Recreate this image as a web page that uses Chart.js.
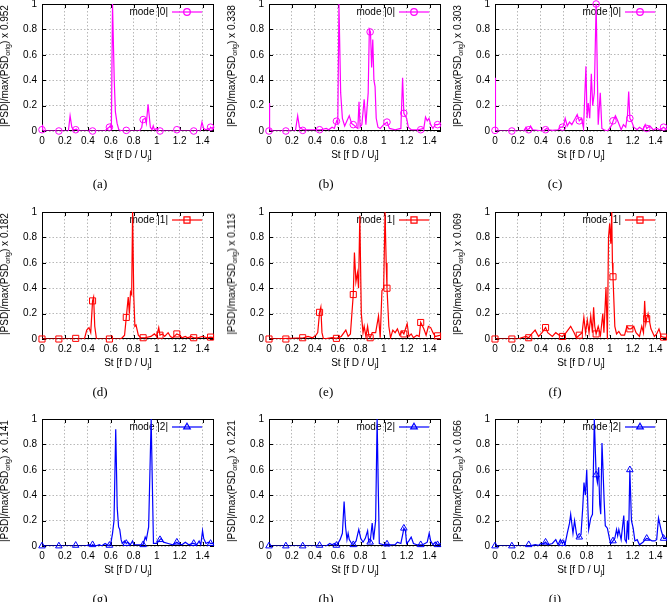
<!DOCTYPE html>
<html>
<head>
<meta charset="utf-8">
<script src="https://cdn.jsdelivr.net/npm/chart.js@4.4.1/dist/chart.umd.min.js"></script>
<style>
    body { margin: 0; background: #fff; }
    #fig { position: relative; width: 667px; height: 602px; overflow: hidden; font-family: "Liberation Sans", Arial, sans-serif; color: #000; }
    #fig canvas { position: absolute; }
    .ylab, .xlab, .cap { position: absolute; white-space: nowrap; line-height: 1; }
    .ylab { font-size: 10px; transform: translate(-50%, -50%) rotate(-90deg); }
    .xlab { font-size: 10px; transform: translate(-50%, -50%); }
    .cap { font-family: "Liberation Serif", "Times New Roman", serif; font-size: 13px; transform: translate(-50%, -50%); }
    sub { font-size: 7px; vertical-align: -2px; line-height: 0; }
</style>
</head>
<body>
<div id="fig"></div>
<script>
// ==================== DATA ====================

// St positions of the point markers (same for every panel)
const markSt = [0, 0.147, 0.294, 0.441, 0.588, 0.735, 0.882, 1.029, 1.176, 1.323, 1.47];

// (a) mode |0|
const stA = [0, 0.005, 0.02, 0.23, 0.245, 0.26, 0.275, 0.3, 0.32, 0.55, 0.57, 0.585, 0.595, 0.605, 0.615, 0.63, 0.64, 0.655, 0.67, 0.7, 0.85, 0.87, 0.88, 0.9, 0.91, 0.925, 0.935, 0.945, 0.96, 0.97, 0.98, 1.0, 1.02, 1.38, 1.395, 1.41, 1.43, 1.45, 1.46, 1.47, 1.485, 1.5];
const psdA = [0.05, 0.01, 0, 0, 0.12, 0.03, 0.01, 0.015, 0, 0, 0.02, 0.03, 0.04, 0.02, 1.0, 0.4, 0.15, 0.06, 0.01, 0, 0, 0.03, 0.09, 0.1, 0.06, 0.21, 0.12, 0.03, 0.01, 0.04, 0.01, 0.02, 0, 0, 0.07, 0.02, 0.01, 0.02, 0.01, 0.03, 0.02, 0.04];
const markA = [0.01, 0, 0.01, 0, 0.03, 0.005, 0.09, 0, 0.01, 0, 0.03];

// (b) mode |0|
const stB = [0, 0.005, 0.015, 0.23, 0.25, 0.265, 0.28, 0.3, 0.45, 0.5, 0.52, 0.55, 0.57, 0.59, 0.6, 0.61, 0.625, 0.64, 0.66, 0.68, 0.7, 0.72, 0.735, 0.76, 0.775, 0.785, 0.795, 0.81, 0.83, 0.845, 0.855, 0.865, 0.875, 0.885, 0.895, 0.905, 0.915, 0.925, 0.935, 0.95, 0.97, 1.0, 1.03, 1.05, 1.1, 1.15, 1.165, 1.176, 1.2, 1.215, 1.24, 1.3, 1.35, 1.365, 1.38, 1.395, 1.41, 1.43, 1.45, 1.47, 1.5];
const psdB = [0.22, 0.02, 0, 0, 0.12, 0.03, 0.02, 0.01, 0.01, 0.02, 0.01, 0.03, 0.02, 0.08, 0.06, 1.0, 0.3, 0.1, 0.04, 0.08, 0.12, 0.06, 0.05, 0.03, 0.02, 0.23, 0.03, 0.05, 0.25, 0.05, 0.18, 0.3, 0.8, 0.78, 0.5, 0.72, 0.4, 0.35, 0.1, 0.03, 0.02, 0.05, 0.07, 0.02, 0.01, 0.02, 0.42, 0.14, 0.1, 0.03, 0.01, 0.01, 0.02, 0.11, 0.08, 0.1, 0.05, 0.02, 0.05, 0.05, 0.06];
const markB = [0, 0, 0.005, 0.01, 0.077, 0.05, 0.78, 0.07, 0.14, 0.01, 0.05];

// (c) mode |0|
const stC = [0, 0.004, 0.012, 0.25, 0.27, 0.28, 0.3, 0.31, 0.33, 0.42, 0.45, 0.47, 0.5, 0.55, 0.57, 0.59, 0.6, 0.612, 0.63, 0.65, 0.67, 0.7, 0.717, 0.735, 0.755, 0.772, 0.793, 0.803, 0.813, 0.826, 0.84, 0.852, 0.866, 0.882, 0.9, 0.918, 0.932, 0.95, 0.98, 1.0, 1.02, 1.03, 1.05, 1.07, 1.1, 1.12, 1.14, 1.155, 1.166, 1.176, 1.19, 1.21, 1.24, 1.26, 1.29, 1.31, 1.323, 1.35, 1.38, 1.41, 1.44, 1.47, 1.5];
const psdC = [0.42, 0.01, 0, 0, 0.03, 0.01, 0.02, 0.04, 0.01, 0, 0.02, 0.01, 0.005, 0.01, 0.03, 0.03, 0.05, 0.1, 0.04, 0.07, 0.05, 0.1, 0.13, 0.08, 0.1, 0.02, 0.51, 0.1, 0.22, 0.1, 0.45, 0.2, 0.3, 1.0, 0.05, 0.3, 0.02, 0.01, 0, 0.02, 0.05, 0.08, 0.12, 0.08, 0.01, 0.05, 0.03, 0.12, 0.31, 0.1, 0.08, 0.03, 0.01, 0.03, 0.01, 0.05, 0.02, 0.04, 0.01, 0.02, 0.01, 0.03, 0.01];
const markC = [0.005, 0, 0.01, 0.01, 0.03, 0.08, 1.0, 0.08, 0.1, 0.02, 0.03];

// (d) mode |1|
const stD = [0, 0.37, 0.39, 0.41, 0.425, 0.441, 0.45, 0.46, 0.475, 0.68, 0.7, 0.72, 0.735, 0.752, 0.762, 0.772, 0.782, 0.79, 0.8, 0.81, 0.82, 0.84, 0.86, 0.9, 0.95, 0.98, 1.0, 1.018, 1.029, 1.05, 1.07, 1.1, 1.12, 1.14, 1.176, 1.2, 1.22, 1.25, 1.27, 1.3, 1.323, 1.36, 1.4, 1.44, 1.47, 1.5];
const psdD = [0, 0, 0.07, 0.09, 0.05, 0.3, 0.33, 0.1, 0, 0, 0.01, 0.03, 0.17, 0.33, 0.2, 0.37, 0.35, 1.0, 0.35, 0.1, 0.11, 0.03, 0.01, 0.01, 0.02, 0.04, 0.02, 0.09, 0.03, 0.04, 0.02, 0.05, 0.02, 0.01, 0.04, 0.03, 0.01, 0.02, 0.01, 0.02, 0.01, 0.01, 0.02, 0.01, 0.015, 0.01];
const markD = [0, 0, 0.005, 0.3, 0, 0.17, 0.01, 0.03, 0.04, 0.01, 0.015];

// (e) mode |1|
const stE = [0, 0.3, 0.34, 0.38, 0.41, 0.425, 0.441, 0.452, 0.462, 0.475, 0.55, 0.588, 0.63, 0.67, 0.69, 0.71, 0.735, 0.745, 0.758, 0.771, 0.781, 0.792, 0.805, 0.82, 0.83, 0.845, 0.86, 0.872, 0.882, 0.9, 0.93, 0.955, 0.97, 0.985, 1.0, 1.012, 1.022, 1.029, 1.045, 1.06, 1.08, 1.1, 1.12, 1.14, 1.16, 1.176, 1.205, 1.22, 1.24, 1.26, 1.29, 1.31, 1.323, 1.35, 1.37, 1.39, 1.41, 1.43, 1.45, 1.47, 1.5];
const psdE = [0, 0.01, 0.02, 0.01, 0.03, 0.05, 0.21, 0.25, 0.05, 0, 0.01, 0.005, 0.02, 0.07, 0.02, 0.04, 0.35, 0.68, 0.45, 0.52, 0.4, 0.97, 0.2, 0.05, 0.1, 0.02, 0.1, 0.02, 0.01, 0.05, 0.05, 0.18, 0.01, 0.38, 0.4, 1.0, 0.6, 0.4, 0.1, 0.01, 0.07, 0.05, 0.08, 0.03, 0.06, 0.04, 0.12, 0.02, 0.04, 0.01, 0.03, 0.02, 0.13, 0.08, 0.03, 0.1, 0.09, 0.05, 0.02, 0.025, 0.03];
const markE = [0, 0, 0.01, 0.21, 0.005, 0.35, 0.01, 0.4, 0.04, 0.13, 0.025];

// (f) mode |1|
const stF = [0, 0.2, 0.23, 0.27, 0.294, 0.32, 0.35, 0.38, 0.41, 0.441, 0.46, 0.5, 0.53, 0.56, 0.588, 0.62, 0.66, 0.69, 0.71, 0.735, 0.76, 0.775, 0.79, 0.805, 0.82, 0.835, 0.85, 0.86, 0.87, 0.882, 0.9, 0.92, 0.94, 0.95, 0.968, 0.98, 0.99, 1.0, 1.01, 1.018, 1.024, 1.029, 1.045, 1.06, 1.08, 1.1, 1.13, 1.15, 1.165, 1.185, 1.21, 1.23, 1.26, 1.28, 1.295, 1.305, 1.315, 1.323, 1.335, 1.36, 1.39, 1.41, 1.43, 1.45, 1.47, 1.5];
const psdF = [0, 0, 0.01, 0.02, 0.01, 0.04, 0.07, 0.02, 0.05, 0.09, 0.05, 0.02, 0.05, 0.03, 0.02, 0.05, 0.1, 0.05, 0.01, 0.03, 0.05, 0.17, 0.05, 0.15, 0.05, 0.18, 0.05, 0.25, 0.1, 0.04, 0.1, 0.03, 0.2, 0.05, 0.41, 0, 0.8, 0.91, 0.75, 1.0, 0.6, 0.49, 0.1, 0.04, 0.06, 0.03, 0.03, 0.1, 0.08, 0.08, 0.1, 0.05, 0.02, 0.1, 0.05, 0.3, 0.12, 0.16, 0.2, 0.08, 0.02, 0.04, 0.08, 0.02, 0.015, 0.01];
const markF = [0, 0, 0.01, 0.09, 0.02, 0.03, 0.04, 0.49, 0.08, 0.16, 0.015];

// (g) mode |2|
const stG = [0, 0.38, 0.41, 0.43, 0.441, 0.47, 0.5, 0.52, 0.55, 0.575, 0.588, 0.6, 0.615, 0.628, 0.643, 0.656, 0.668, 0.678, 0.69, 0.7, 0.72, 0.735, 0.75, 0.77, 0.79, 0.8, 0.85, 0.882, 0.9, 0.91, 0.93, 0.952, 0.962, 0.972, 1.0, 1.029, 1.04, 1.06, 1.1, 1.14, 1.176, 1.19, 1.22, 1.25, 1.28, 1.31, 1.323, 1.35, 1.37, 1.385, 1.4, 1.41, 1.43, 1.45, 1.47, 1.5];
const psdG = [0, 0, 0.01, 0, 0.01, 0, 0.01, 0, 0.02, 0.005, 0.005, 0.02, 0.1, 0.2, 0.92, 0.3, 0.15, 0.13, 0.05, 0.02, 0.04, 0.02, 0.03, 0.01, 0.04, 0.01, 0.01, 0.01, 0.07, 0.05, 0.15, 1.0, 0.5, 0.02, 0.02, 0.05, 0.06, 0.03, 0.02, 0.01, 0.03, 0.02, 0.01, 0.03, 0.01, 0.02, 0.02, 0.01, 0.04, 0.01, 0.12, 0.06, 0.02, 0.03, 0.02, 0.02];
const markG = [0, 0, 0.005, 0.01, 0.005, 0.02, 0.01, 0.05, 0.03, 0.02, 0.02];

// (h) mode |2|
const stH = [0, 0.5, 0.53, 0.55, 0.57, 0.588, 0.6, 0.62, 0.64, 0.655, 0.668, 0.68, 0.69, 0.7, 0.72, 0.735, 0.76, 0.783, 0.8, 0.82, 0.84, 0.86, 0.87, 0.882, 0.9, 0.912, 0.93, 0.943, 0.952, 0.962, 1.0, 1.029, 1.06, 1.1, 1.12, 1.15, 1.168, 1.176, 1.19, 1.2, 1.22, 1.24, 1.26, 1.29, 1.323, 1.34, 1.36, 1.38, 1.397, 1.41, 1.43, 1.45, 1.47, 1.5];
const psdH = [0, 0, 0.02, 0.01, 0.02, 0.005, 0.02, 0.05, 0.1, 0.35, 0.15, 0.05, 0.1, 0.05, 0.02, 0.01, 0.04, 0.13, 0.06, 0.03, 0.06, 0.12, 0.03, 0.03, 0.18, 0.05, 0.2, 1.0, 0.5, 0.02, 0.01, 0.015, 0.01, 0.01, 0.03, 0.02, 0.1, 0.14, 0.12, 0.02, 0.04, 0.07, 0.02, 0.01, 0.01, 0.01, 0.02, 0.03, 0.1, 0.04, 0.01, 0.03, 0.01, 0.02];
const markH = [0, 0, 0, 0.005, 0.005, 0.01, 0.03, 0.015, 0.14, 0.01, 0.01];

// (i) mode |2|
const stI = [0, 0.3, 0.35, 0.38, 0.4, 0.42, 0.441, 0.46, 0.5, 0.53, 0.55, 0.57, 0.588, 0.6, 0.61, 0.63, 0.65, 0.66, 0.68, 0.694, 0.71, 0.72, 0.735, 0.75, 0.765, 0.776, 0.788, 0.8, 0.81, 0.817, 0.835, 0.85, 0.858, 0.866, 0.882, 0.893, 0.904, 0.913, 0.922, 0.933, 0.942, 0.952, 0.962, 0.98, 1.0, 1.01, 1.029, 1.045, 1.06, 1.07, 1.08, 1.1, 1.123, 1.133, 1.145, 1.155, 1.165, 1.176, 1.19, 1.205, 1.22, 1.24, 1.26, 1.29, 1.31, 1.323, 1.35, 1.37, 1.39, 1.41, 1.426, 1.45, 1.47, 1.5];
const psdI = [0, 0, 0.01, 0.005, 0.02, 0.015, 0.03, 0.01, 0.02, 0.05, 0.01, 0.05, 0.02, 0.04, 0.01, 0.1, 0.18, 0.25, 0.1, 0.2, 0.1, 0.07, 0.07, 0.09, 0.3, 0.5, 0.4, 0.6, 0.3, 0.13, 0.22, 0.25, 0.6, 1.0, 0.56, 0.5, 0.62, 0.33, 0.25, 0.81, 0.6, 0.35, 0.16, 0.14, 0.05, 0.02, 0.04, 0.06, 0.13, 0.08, 0.13, 0.05, 0.24, 0.05, 0.03, 0.2, 0.05, 0.6, 0.2, 0.14, 0.04, 0.05, 0.01, 0.03, 0.05, 0.06, 0.05, 0.04, 0.04, 0.05, 0.22, 0.12, 0.06, 0.06];
const markI = [0, 0, 0.01, 0.03, 0.02, 0.07, 0.56, 0.04, 0.6, 0.06, 0.06];

const modes = [0, 0, 0, 1, 1, 1, 2, 2, 2];
const scaleFactors = ['0.952', '0.338', '0.303', '0.182', '0.113', '0.069', '0.141', '0.221', '0.056'];
const captions = ['(a)', '(b)', '(c)', '(d)', '(e)', '(f)', '(g)', '(h)', '(i)'];

const panels = [
    [stA, psdA, markA], [stB, psdB, markB], [stC, psdC, markC],
    [stD, psdD, markD], [stE, psdE, markE], [stF, psdF, markF],
    [stG, psdG, markG], [stH, psdH, markH], [stI, psdI, markI]
];

// ==================== LAYOUT / STYLE ====================

const PLOT_LEFT = [42, 269, 495];
const PLOT_TOP = [1, 209, 416];
const CAPTION_X = [100, 326, 555];
const PLOT_W = 172, PLOT_H = 130;
const Y_AXIS_W = 40, X_AXIS_H = 20, PAD_T = 8, PAD_R = 10, PAD_B = 2;

const modeColors = ['#ff00ff', '#ff0000', '#0000ff'];
const modeMarkers = ['circle', 'rect', 'triangle'];
const markerRadius = { circle: 3.3, rect: 4.3, triangle: 3.8 };
const FONT = { family: '"Liberation Sans", Arial, sans-serif', size: 10 };

function toPoints(xs, ys) {
    return xs.map((x, i) => ({ x: x, y: ys[i] }));
}

function fmtTick(v) {
    return String(Math.round(v * 10) / 10);
}

function drawMarker(ctx, style, x, y, r) {
    ctx.beginPath();
    if (style === 'circle') {
        ctx.arc(x, y, r, 0, Math.PI * 2);
    } else if (style === 'rect') {
        const s = r * Math.SQRT1_2;
        ctx.rect(x - s, y - s, 2 * s, 2 * s);
    } else {
        for (let k = 0; k < 3; k++) {
            const a = k * 2 * Math.PI / 3;
            const px = x + Math.sin(a) * r, py = y - Math.cos(a) * r;
            if (k === 0) ctx.moveTo(px, py); else ctx.lineTo(px, py);
        }
        ctx.closePath();
    }
    ctx.stroke();
}

// black frame with inward ticks on all four sides
const framePlugin = {
    id: 'frame',
    beforeDatasetsDraw(chart) {
        const { ctx, chartArea: a, scales } = chart;
        ctx.save();
        ctx.strokeStyle = '#000';
        ctx.lineWidth = 1;
        ctx.beginPath();
        scales.x.ticks.forEach(t => {
            const px = Math.round(scales.x.getPixelForValue(t.value)) + 0.5;
            ctx.moveTo(px, a.bottom); ctx.lineTo(px, a.bottom - 4);
            ctx.moveTo(px, a.top); ctx.lineTo(px, a.top + 4);
        });
        scales.y.ticks.forEach(t => {
            const py = Math.round(scales.y.getPixelForValue(t.value)) + 0.5;
            ctx.moveTo(a.left, py); ctx.lineTo(a.left + 4, py);
            ctx.moveTo(a.right, py); ctx.lineTo(a.right - 4, py);
        });
        ctx.stroke();
        ctx.strokeRect(Math.round(a.left) + 0.5, Math.round(a.top) + 0.5,
            Math.round(a.width) - 1, Math.round(a.height) - 1);
        ctx.restore();
    }
};

// gnuplot-style key in the top right corner: text, then line sample with marker
const keyPlugin = {
    id: 'modeKey',
    beforeDatasetsDraw(chart, args, opts) {
        const { ctx, chartArea: a } = chart;
        const y = a.top + 8;
        ctx.save();
        ctx.font = FONT.size + 'px ' + FONT.family;
        ctx.fillStyle = '#000';
        ctx.textAlign = 'right';
        ctx.textBaseline = 'middle';
        ctx.fillText(opts.label, a.right - 46, y + 0.5);
        ctx.strokeStyle = opts.color;
        ctx.lineWidth = 1.2;
        ctx.beginPath();
        ctx.moveTo(a.right - 42, y);
        ctx.lineTo(a.right - 12, y);
        ctx.stroke();
        drawMarker(ctx, opts.marker, a.right - 27, y, markerRadius[opts.marker]);
        ctx.restore();
    }
};

// ==================== CHARTS ====================

const fig = document.getElementById('fig');

function addText(cls, html, x, y) {
    const el = document.createElement('div');
    el.className = cls;
    el.innerHTML = html;
    el.style.left = x + 'px';
    el.style.top = y + 'px';
    fig.appendChild(el);
}

function createPanel(i) {
    const col = i % 3, row = Math.floor(i / 3);
    const left = PLOT_LEFT[col], top = PLOT_TOP[row];
    const [st, psd, mark] = panels[i];
    const color = modeColors[modes[i]];
    const marker = modeMarkers[modes[i]];

    const canvas = document.createElement('canvas');
    canvas.width = Y_AXIS_W + PLOT_W + PAD_R;
    canvas.height = PAD_T + PLOT_H + X_AXIS_H + PAD_B;
    canvas.style.left = (left - Y_AXIS_W) + 'px';
    canvas.style.top = (top - PAD_T) + 'px';
    fig.appendChild(canvas);

    new Chart(canvas, {
        type: 'scatter',
        data: {
            datasets: [{
                data: toPoints(st, psd),
                showLine: true,
                borderColor: color,
                borderWidth: 1.2,
                pointRadius: 0,
                tension: 0
            }, {
                data: toPoints(markSt, mark),
                showLine: false,
                pointStyle: marker,
                pointRadius: markerRadius[marker],
                pointBorderColor: color,
                pointBackgroundColor: 'rgba(0,0,0,0)',
                pointBorderWidth: 1,
                clip: false
            }]
        },
        options: {
            responsive: false,
            animation: false,
            events: [],
            layout: { padding: { top: PAD_T, right: PAD_R, bottom: PAD_B, left: 0 } },
            scales: {
                x: {
                    type: 'linear',
                    min: 0,
                    max: 1.5,
                    afterFit: s => { s.height = X_AXIS_H; },
                    grid: { color: '#b8b8b8', drawTicks: false },
                    border: { display: false, dash: [1.5, 2] },
                    ticks: {
                        stepSize: 0.2, includeBounds: false, autoSkip: false, maxRotation: 0,
                        padding: 4, color: '#000', font: FONT, callback: fmtTick
                    }
                },
                y: {
                    min: 0,
                    max: 1,
                    afterFit: s => { s.width = Y_AXIS_W; },
                    grid: { color: '#b8b8b8', drawTicks: false },
                    border: { display: false, dash: [1.5, 2] },
                    ticks: { stepSize: 0.1, padding: 5, color: '#000', font: FONT, callback: fmtTick }
                }
            },
            plugins: {
                legend: { display: false },
                tooltip: { enabled: false },
                modeKey: { label: 'mode |' + modes[i] + '|', color: color, marker: marker }
            }
        },
        plugins: [framePlugin, keyPlugin]
    });

    addText('ylab', '|PSD|/max(PSD<sub>orig</sub>) x ' + scaleFactors[i], left - 37, top + PLOT_H / 2);
    addText('xlab', 'St [f D / U<sub>j</sub>]', left + PLOT_W / 2, top + PLOT_H + 24);
    addText('cap', captions[i], CAPTION_X[col], top + PLOT_H + 52);
}

for (let i = 0; i < panels.length; i++) {
    createPanel(i);
}
</script>
</body>
</html>
